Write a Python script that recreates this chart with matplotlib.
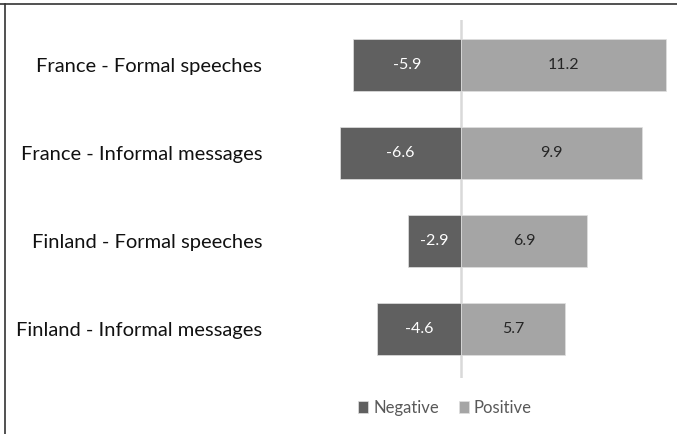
import matplotlib.pyplot as plt
from matplotlib.lines import Line2D
import numpy as np

categories = ["France - Formal speeches", "France - Informal messages",
              "Finland - Formal speeches", "Finland - Informal messages"]
negative = [-5.9, -6.6, -2.9, -4.6]
positive = [11.2, 9.9, 6.9, 5.7]

W, H = 677, 434
plt.rcParams['font.family'] = ['Lato', 'DejaVu Sans']

fig = plt.figure(figsize=(W / 100, H / 100), dpi=100)
# axes in pixel coords: left 290, right 670, top 20, bottom 378
ax = fig.add_axes([290 / W, 1 - 378 / H, 380 / W, 358 / H])

y = np.arange(len(categories))
ax.barh(y, negative, height=0.6, color="#606060", edgecolor="#e0e0e0", linewidth=0.5, label="Negative")
ax.barh(y, positive, height=0.6, color="#a5a5a5", edgecolor="#e0e0e0", linewidth=0.5, label="Positive")

for i in range(len(categories)):
    ax.text(negative[i] / 2, y[i], f"{negative[i]:.1f}", ha="center", va="center",
            color="white", fontsize=11.5)
    ax.text(positive[i] / 2, y[i], f"{positive[i]:.1f}", ha="center", va="center",
            color="#262626", fontsize=11.5)

ax.axvline(0, color="#d9d9d9", linewidth=1.8, zorder=0)

ax.set_xlim((290 - 461) / 18.3, (670 - 461) / 18.3)
ax.set_ylim(3.557, -0.511)
ax.set_xticks([])
ax.set_yticks(y)
ax.set_yticklabels(categories, fontsize=14.5, color="#111111")
ax.tick_params(axis="y", length=0, pad=20)
for s in ax.spines.values():
    s.set_visible(False)

fig.legend(loc="center", bbox_to_anchor=(445 / W, 1 - 408 / H), ncol=2, frameon=False,
           fontsize=12, handlelength=0.6, handleheight=0.7, handletextpad=0.3,
           columnspacing=1.2, labelcolor="#595959")

fig.add_artist(Line2D([0, 1], [1 - 3.5 / H, 1 - 3.5 / H], color="#333333", linewidth=1.2))
fig.add_artist(Line2D([4.5 / W, 4.5 / W], [0, 1 - 3.5 / H], color="#333333", linewidth=1.2))

fig.savefig("out.png", dpi=100)
